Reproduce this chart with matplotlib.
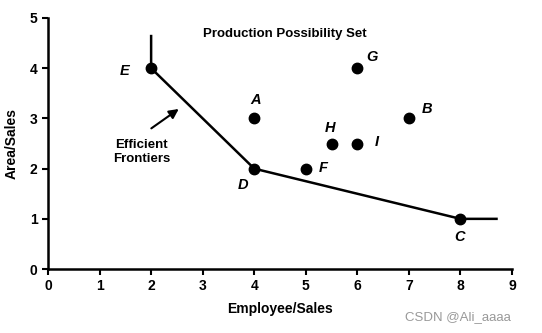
import matplotlib
matplotlib.use('Agg')
import matplotlib.pyplot as plt

# data
names = ['E', 'A', 'D', 'F', 'H', 'I', 'G', 'B', 'C']
xs = [2, 4, 4, 5, 5.5, 6, 6, 7, 8]
ys = [4, 3, 2, 2, 2.5, 2.5, 4, 3, 1]
label_x = [1.48, 4.02, 3.78, 5.34, 5.48, 6.37, 6.29, 7.36, 7.98]
label_y = [3.94, 3.37, 1.67, 2.01, 2.81, 2.53, 4.22, 3.19, 0.64]

frontier_x = [2, 2, 4, 8, 8.7]
frontier_y = [4.64, 4, 2, 1, 1]

plt.rcParams['font.family'] = ['Liberation Sans', 'DejaVu Sans']

fig = plt.figure(figsize=(5.42, 3.33), dpi=100)
ax = fig.add_axes([0.0886, 0.192, 0.856, 0.754])

ax.plot(frontier_x, frontier_y, color='black', lw=1.8)
ax.plot(xs, ys, 'o', color='black', ms=7.5)
for n, lx, ly in zip(names, label_x, label_y):
    ax.text(lx, ly, n, fontsize=10.5, style='italic', weight='bold',
            ha='center', va='center')

ax.text(4.6, 4.69, 'Production Possibility Set', fontsize=9.5,
        weight='bold', ha='center', va='center')
ax.text(1.81, 2.33, 'Efficient\nFrontiers', fontsize=9.5, weight='bold',
        ha='center', va='center', linespacing=1.3)
ax.annotate('', xy=(2.58, 3.22), xytext=(1.96, 2.77),
            arrowprops=dict(arrowstyle='-|>', color='black', lw=1.5,
                            mutation_scale=14))

ax.set_xlim(0, 9)
ax.set_ylim(0, 5)
ax.set_xticks(range(10))
ax.set_yticks(range(6))
ax.spines['top'].set_visible(False)
ax.spines['right'].set_visible(False)
ax.spines['left'].set_linewidth(1.8)
ax.spines['bottom'].set_linewidth(1.8)
ax.tick_params(direction='out', length=4, width=1.5, labelsize=10)
for lbl in ax.get_xticklabels() + ax.get_yticklabels():
    lbl.set_fontweight('bold')
ax.set_xlabel('Employee/Sales', fontsize=10, weight='bold', labelpad=6)
ax.set_ylabel('Area/Sales', fontsize=10, weight='bold', labelpad=8)

fig.text(0.845, 0.048, 'CSDN @Ali_aaaa', fontsize=9.5, color='#999999',
         ha='center', va='center')

fig.savefig('out.png', dpi=100)
